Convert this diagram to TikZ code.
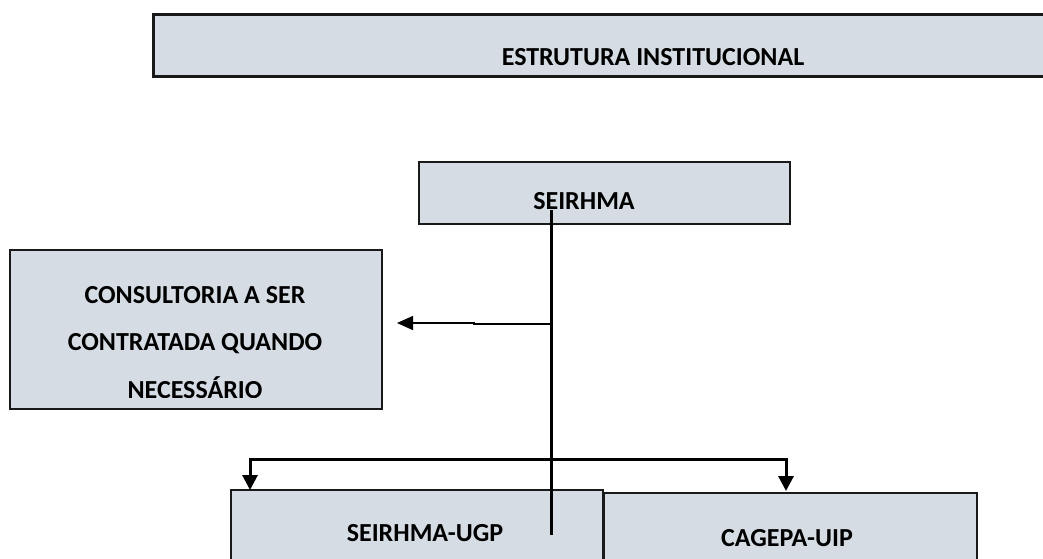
\documentclass[tikz,border=0pt]{standalone}
\usepackage{fontspec}
\setmainfont{Carlito}
\usetikzlibrary{arrows.meta}
\definecolor{boxfill}{RGB}{214,220,228}
\begin{document}
\begin{tikzpicture}[x=1pt,y=-1pt,
  box/.style={draw=black!90, line width=1.8pt, fill=boxfill, rectangle, anchor=north west, inner sep=0pt},
  lbl/.style={font=\fontsize{26}{30}\selectfont\bfseries, inner sep=0pt, anchor=base},
  trunk/.style={line width=3pt, draw=black},
  bigtip/.style={line width=3pt, draw=black, {Triangle[length=15pt,width=15pt]}-{Triangle[length=15pt,width=15pt]}},
  thinarrow/.style={line width=1.5pt, draw=black, -{Triangle[length=16pt,width=14pt]}}]
\useasboundingbox (0,0) rectangle (1043,558);
\clip (0,0) rectangle (1043,558);
\fill[white] (0,0) rectangle (1043,558);
% boxes
\node[box, line width=2.5pt, minimum width=920pt, minimum height=62pt] (topbox) at (152,13) {};
\node[lbl] (toptext) at (653,65) {ESTRUTURA INSTITUCIONAL};
\node[box, minimum width=371pt, minimum height=62pt] (seirhma) at (418,161) {};
\node[lbl] (seirhmatext) at (584,209) {SEIRHMA};
\node[box, minimum width=372pt, minimum height=159pt] (consult) at (9,249) {};
\node[lbl] (c1) at (195,303) {CONSULTORIA A SER};
\node[lbl] (c2) at (195,350) {CONTRATADA QUANDO};
\begin{scope}
\clip (9,249) rectangle (381,397);
\node[lbl] (c3) at (195,398) {NECESSÁRIO};
\end{scope}
\node[box, minimum width=372pt, minimum height=100pt] (ugp) at (230,489) {};
\node[lbl] (ugptext) at (425,541) {SEIRHMA-UGP};
\node[box, minimum width=373pt, minimum height=100pt] (cagepa) at (603,492) {};
\node[lbl] (cagepatext) at (787,546) {CAGEPA-UIP};
% connector points
\coordinate (ttop) at (551,210);
\coordinate (tbot) at (551,535);
\coordinate (cj) at (551,324);
\coordinate (cstep) at (474,324);
\coordinate (cstep2) at (474,323);
\coordinate (ctip) at (397,323);
\coordinate (ugpin) at (250,490);
\coordinate (bj) at (786,459);
\coordinate (cagin) at (786,491);
% connectors
\draw[trunk] (ttop) -- (tbot);
\draw[thinarrow] (cj) -- (cstep) -- (cstep2) -- (ctip);
\draw[bigtip] (ugpin) |- (bj) -- (cagin);
\end{tikzpicture}
\end{document}
